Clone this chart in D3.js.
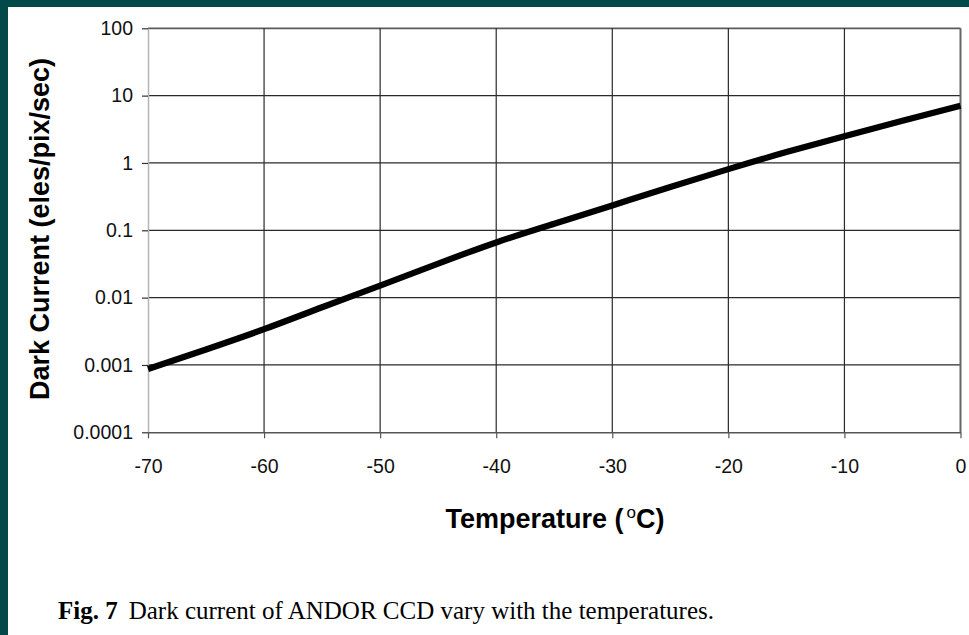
<!DOCTYPE html>
<html>
<head>
<meta charset="utf-8">
<script src="https://cdn.jsdelivr.net/npm/d3@7/dist/d3.min.js"></script>
<style>
  html, body { margin: 0; padding: 0; background: #ffffff; }
  svg { display: block; }
</style>
</head>
<body>
<script>
// Dark current of the ANDOR CCD against sensor temperature
const temperatures = [-70, -65, -60, -55, -50, -45, -40, -35, -30, -25, -20, -15, -10, -5, 0];
const darkCurrent  = [0.00087, 0.0017, 0.0034, 0.0072, 0.0151, 0.032, 0.066, 0.125, 0.234, 0.44, 0.81, 1.45, 2.5, 4.25, 7.1];

const xTickValues = [-70, -60, -50, -40, -30, -20, -10, 0];
const yTickValues = [0.0001, 0.001, 0.01, 0.1, 1, 10, 100];
const yTickLabels = ["0.0001", "0.001", "0.01", "0.1", "1", "10", "100"];

const xTitle = "Temperature (";
const yTitle = "Dark Current (eles/pix/sec)";
const captionBold = "Fig. 7";
const captionText = "Dark current of ANDOR CCD vary with the temperatures.";

const W = 969, H = 635;
const plot = { left: 148, right: 960.5, top: 28.3, bottom: 432.3 };

const svg = d3.select("body").append("svg")
  .attr("width", W).attr("height", H);

// page frame: teal band on the top and left edges
svg.append("rect").attr("x", 0).attr("y", 0).attr("width", W).attr("height", H).attr("fill", "#ffffff");
svg.append("rect").attr("x", 0).attr("y", 0).attr("width", W).attr("height", 7).attr("fill", "#04494a");
svg.append("rect").attr("x", 0).attr("y", 0).attr("width", 8).attr("height", H).attr("fill", "#04494a");

const x = d3.scaleLinear().domain([-70, 0]).range([plot.left, plot.right]);
const y = d3.scaleLog().domain([0.0001, 100]).range([plot.bottom, plot.top]);

// horizontal gridlines
svg.append("g").selectAll("line")
  .data(yTickValues.slice(1))
  .join("line")
  .attr("x1", plot.left).attr("x2", plot.right)
  .attr("y1", d => y(d)).attr("y2", d => y(d))
  .attr("stroke", d => d === 100 ? "#5a5a5a" : "#2a2a2a")
  .attr("stroke-width", d => d === 100 ? 1.8 : 1.2);

// vertical gridlines
svg.append("g").selectAll("line")
  .data(xTickValues.slice(1))
  .join("line")
  .attr("x1", d => x(d)).attr("x2", d => x(d))
  .attr("y1", plot.top).attr("y2", plot.bottom)
  .attr("stroke", d => d === 0 ? "#666" : "#2a2a2a")
  .attr("stroke-width", d => d === 0 ? 2 : 1.2);

// y axis
const yAxis = d3.axisLeft(y)
  .tickValues(yTickValues)
  .tickFormat((d, i) => yTickLabels[i])
  .tickSize(6)
  .tickSizeOuter(0)
  .tickPadding(9);

const gy = svg.append("g")
  .attr("transform", `translate(${plot.left},0)`)
  .call(yAxis);
gy.select(".domain").attr("stroke", "#b4b4b4").attr("stroke-width", 1.5);
gy.selectAll(".tick line").attr("stroke", "#333").attr("stroke-width", 1.2);
gy.selectAll(".tick text")
  .attr("font-family", "'Liberation Sans', Arial, sans-serif")
  .attr("font-size", 19.5)
  .attr("fill", "#111");

// x axis
const xAxis = d3.axisBottom(x)
  .tickValues(xTickValues)
  .tickFormat(d => String(d))
  .tickSize(6)
  .tickSizeOuter(0)
  .tickPadding(21);

const gx = svg.append("g")
  .attr("transform", `translate(0,${plot.bottom})`)
  .call(xAxis);
gx.select(".domain").attr("stroke", "#555").attr("stroke-width", 1.5);
gx.selectAll(".tick line").attr("stroke", "#555").attr("stroke-width", 1.2);
gx.selectAll(".tick text")
  .attr("font-family", "'Liberation Sans', Arial, sans-serif")
  .attr("font-size", 19.5)
  .attr("fill", "#111");

// dark current curve
const line = d3.line()
  .x((d, i) => x(temperatures[i]))
  .y(d => y(d))
  .curve(d3.curveNatural);

svg.append("path")
  .datum(darkCurrent)
  .attr("d", line)
  .attr("fill", "none")
  .attr("stroke", "#000")
  .attr("stroke-width", 6.2)
  .attr("stroke-linecap", "butt");

// axis titles
const xt = svg.append("text")
  .attr("x", 555).attr("y", 528)
  .attr("text-anchor", "middle")
  .attr("font-family", "'Liberation Sans', Arial, sans-serif")
  .attr("font-weight", "bold")
  .attr("font-size", 27)
  .attr("fill", "#000");
xt.append("tspan").text(xTitle);
xt.append("tspan").attr("font-size", 17).attr("font-weight", "normal").attr("dx", 3).attr("dy", -10).text("o");
xt.append("tspan").attr("dy", 10).text("C)");

svg.append("text")
  .attr("transform", "translate(49,229) rotate(-90)")
  .attr("text-anchor", "middle")
  .attr("font-family", "'Liberation Sans', Arial, sans-serif")
  .attr("font-weight", "bold")
  .attr("font-size", 27)
  .attr("fill", "#000")
  .text(yTitle);

// caption
const cap = svg.append("text")
  .attr("x", 58).attr("y", 619)
  .attr("font-family", "'Liberation Serif', 'Times New Roman', serif")
  .attr("font-size", 25)
  .attr("fill", "#000");
cap.append("tspan").attr("font-weight", "bold").text(captionBold);
cap.append("tspan").attr("dx", 11).text(captionText);
</script>
</body>
</html>
